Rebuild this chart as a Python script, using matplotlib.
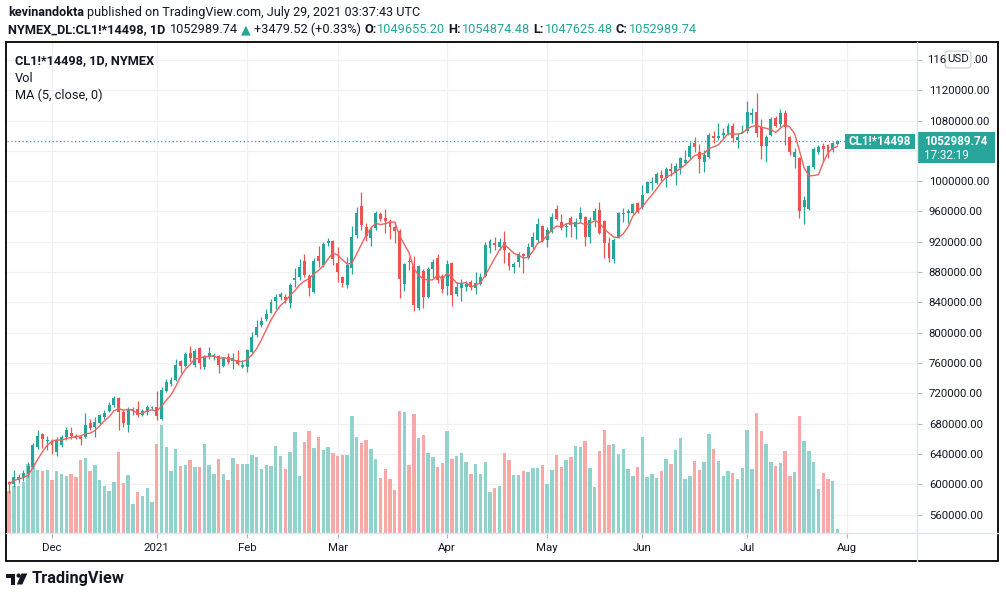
import matplotlib
matplotlib.use('Agg')
import matplotlib.pyplot as plt
import numpy as np
import pandas as pd
from matplotlib.patches import Rectangle, FancyBboxPatch, Polygon, Circle

# daily bars, CL1!*14498 (prices in thousands)
opens = [603.4, 600.3, 605.6, 607.8, 613.5, 623.2, 649.6, 665.9, 657.5, 656.2,
         643.0, 651.8, 661.9, 668.1, 663.7, 662.8, 661.9, 680.4, 676.0, 681.3,
         689.2, 697.1, 704.6, 713.4, 695.8, 678.2, 697.1, 698.9, 691.8, 695.8,
         701.1, 701.5, 685.7, 723.5, 732.3, 737.6, 762.7, 756.1, 772.8, 757.4,
         779.4, 754.3, 768.4, 767.5, 769.3, 756.1, 767.5, 763.1, 764.0, 755.2,
         754.3, 775.0, 797.0, 810.2, 817.7, 826.5, 842.3, 847.6, 847.6, 839.7,
         869.6, 873.1, 895.1, 874.9, 854.2, 901.3, 889.4, 918.9, 921.5, 891.6,
         873.1, 863.0, 885.0, 929.0, 967.3, 939.1, 924.6, 937.8, 956.7, 951.9,
         947.9, 940.0, 934.7, 864.3, 894.2, 888.1, 832.2, 881.9, 847.6, 883.7,
         898.2, 874.9, 861.7, 891.6, 851.1, 858.6, 860.8, 867.0, 858.6, 864.3,
         874.9, 911.4, 918.9, 912.7, 920.2, 905.7, 886.3, 893.8, 903.5, 898.2,
         913.6, 922.4, 940.9, 922.4, 933.4, 962.9, 946.2, 940.0, 951.0, 940.0,
         949.7, 953.2, 925.9, 948.8, 962.0, 947.9, 918.9, 896.9, 925.9, 956.7,
         957.6, 958.5, 970.8, 966.4, 984.9, 997.2, 998.1, 1008.2, 1003.8, 1015.7,
         1011.3, 1018.0, 1024.5, 1031.5, 1050.0, 1039.0, 1025.8, 1031.5, 1059.7, 1056.6,
         1061.0, 1063.2, 1072.9, 1054.4, 1064.1, 1066.7, 1087.4, 1091.8, 1071.1, 1046.5,
         1061.0, 1083.0, 1075.5, 1089.6, 1057.9, 1032.4, 1030.2, 965.5, 962.9, 1018.3,
         1039.0, 1046.5, 1047.8, 1041.2, 1049.655]
highs = [604.7, 618.8, 613.5, 618.8, 629.8, 654.0, 671.6, 668.1, 663.7, 659.2,
         662.8, 665.0, 676.0, 675.1, 666.3, 664.5, 693.6, 686.5, 688.3, 692.7,
         698.0, 709.0, 716.5, 715.6, 698.0, 701.5, 702.4, 710.3, 698.9, 704.2,
         703.3, 723.1, 728.8, 738.9, 742.0, 764.9, 764.0, 775.0, 782.5, 778.1,
         781.6, 770.6, 780.7, 773.7, 770.6, 768.4, 772.8, 773.7, 777.2, 764.0,
         778.1, 801.4, 816.8, 821.2, 830.9, 844.1, 851.1, 853.8, 851.1, 866.1,
         885.0, 896.9, 903.9, 877.5, 898.2, 914.5, 920.2, 924.6, 922.4, 912.7,
         874.9, 899.5, 940.9, 966.4, 985.8, 945.3, 940.9, 961.1, 959.8, 962.9,
         949.7, 946.6, 936.5, 892.5, 899.5, 901.3, 889.4, 883.7, 887.2, 896.9,
         903.9, 877.5, 896.0, 893.8, 867.4, 871.3, 868.7, 869.6, 880.6, 878.4,
         920.2, 923.3, 926.8, 924.6, 934.3, 907.0, 893.8, 907.0, 904.8, 918.9,
         933.4, 951.0, 942.2, 940.0, 957.6, 968.6, 956.7, 945.3, 954.1, 951.0,
         965.5, 954.1, 952.3, 964.2, 973.0, 948.8, 926.8, 924.6, 959.8, 964.2,
         962.9, 971.7, 973.0, 995.0, 1000.7, 1006.0, 1012.6, 1014.8, 1019.2, 1024.5,
         1024.5, 1032.0, 1041.2, 1052.2, 1057.9, 1049.1, 1041.2, 1063.2, 1066.7, 1077.3,
         1069.8, 1076.4, 1077.3, 1063.2, 1074.2, 1106.3, 1096.2, 1116.0, 1081.7, 1061.0,
         1085.2, 1086.1, 1094.9, 1094.0, 1059.7, 1043.4, 1031.5, 980.5, 1021.4, 1045.6,
         1047.8, 1050.9, 1049.1, 1052.2, 1054.874]
lows = [588.0, 596.8, 601.2, 604.7, 610.0, 621.0, 646.1, 647.4, 645.2, 639.9,
        637.3, 648.7, 658.4, 659.3, 659.3, 651.4, 660.6, 671.6, 662.8, 679.5,
        686.5, 695.4, 701.5, 671.6, 675.1, 669.4, 691.4, 688.3, 690.1, 691.0,
        699.8, 684.8, 684.8, 721.7, 729.6, 736.7, 746.4, 755.2, 761.8, 755.2,
        751.7, 751.7, 764.9, 764.0, 746.4, 754.3, 758.7, 751.7, 757.4, 753.0,
        748.6, 773.7, 794.8, 808.0, 815.9, 825.6, 830.9, 843.2, 838.8, 832.2,
        860.8, 869.6, 874.0, 848.5, 852.9, 887.2, 887.2, 914.5, 889.4, 867.4,
        859.9, 858.6, 877.5, 925.5, 935.6, 921.5, 914.5, 935.6, 947.9, 931.2,
        923.3, 918.9, 845.4, 855.5, 882.8, 829.1, 830.0, 832.2, 845.4, 871.8,
        866.1, 852.9, 849.8, 835.3, 848.5, 842.3, 855.5, 856.4, 851.1, 863.0,
        874.0, 904.8, 909.2, 909.2, 891.6, 882.8, 878.4, 887.2, 879.3, 896.9,
        910.1, 920.2, 920.2, 912.7, 931.2, 948.8, 935.6, 925.9, 926.8, 923.3,
        946.6, 914.5, 918.0, 940.0, 930.3, 898.2, 893.8, 892.5, 924.6, 946.6,
        945.3, 956.7, 957.6, 962.9, 984.0, 988.4, 996.3, 1000.7, 992.8, 1006.9,
        995.0, 1009.5, 1023.6, 1028.9, 1039.0, 1011.3, 1012.6, 1030.2, 1050.9, 1054.4,
        1055.3, 1061.0, 1052.2, 1043.4, 1063.2, 1064.1, 1077.3, 1057.9, 1028.9, 1025.8,
        1059.7, 1072.0, 1072.0, 1047.8, 1034.6, 1017.0, 951.0, 943.5, 962.0, 1015.7,
        1035.9, 1025.8, 1030.2, 1039.0, 1047.625]
closes = [599.9, 610.0, 610.0, 615.2, 624.1, 651.4, 663.7, 659.7, 658.4, 651.8,
          658.4, 661.9, 671.6, 663.7, 660.6, 660.2, 677.7, 673.8, 682.2, 691.0,
          693.6, 704.6, 713.4, 695.8, 681.3, 698.9, 698.9, 691.0, 696.7, 701.5,
          702.4, 690.1, 724.4, 735.4, 737.6, 757.4, 756.1, 771.9, 766.2, 776.3,
          759.6, 768.4, 772.8, 770.6, 757.4, 766.2, 761.8, 766.2, 758.3, 757.4,
          777.2, 794.8, 808.0, 815.5, 824.7, 841.0, 847.6, 851.1, 843.2, 863.0,
          871.8, 886.3, 876.2, 858.6, 895.1, 895.1, 917.1, 921.5, 896.9, 880.6,
          865.2, 889.4, 926.8, 958.5, 942.2, 927.7, 935.6, 958.5, 949.7, 947.9,
          939.1, 934.7, 870.5, 890.7, 892.9, 836.6, 888.1, 846.7, 883.7, 893.8,
          869.6, 857.3, 890.7, 849.8, 860.8, 866.1, 864.3, 859.9, 865.2, 873.1,
          915.8, 921.5, 915.8, 920.2, 909.2, 888.1, 890.7, 903.9, 901.3, 913.6,
          926.8, 943.5, 921.5, 935.6, 953.2, 950.6, 937.8, 940.9, 942.2, 946.6,
          957.6, 925.9, 948.8, 961.1, 931.2, 918.0, 898.2, 922.4, 957.6, 957.6,
          961.1, 969.9, 959.8, 981.8, 999.4, 998.1, 1009.5, 1003.8, 1015.7, 1013.9,
          1020.1, 1030.0, 1028.0, 1046.5, 1044.7, 1028.9, 1034.6, 1061.0, 1056.6, 1059.7,
          1064.1, 1072.9, 1056.6, 1057.9, 1065.4, 1090.9, 1090.5, 1063.2, 1046.5, 1057.9,
          1081.7, 1072.9, 1090.5, 1072.0, 1039.0, 1039.0, 961.1, 975.2, 1020.1, 1042.1,
          1044.7, 1042.1, 1039.0, 1050.0, 1052.990]
# volume (real scale is hidden on the chart, thousands of contracts)
volumes = [208, 234, 234, 255, 347, 350, 314, 310, 314, 264,
           310, 294, 284, 294, 280, 364, 375, 310, 339, 264,
           235, 210, 255, 404, 250, 289, 144, 204, 185, 225,
           155, 445, 539, 430, 310, 420, 335, 339, 364, 330,
           330, 447, 339, 297, 369, 294, 264, 374, 344, 344,
           347, 389, 379, 319, 339, 335, 434, 384, 319, 404,
           504, 284, 454, 509, 424, 479, 414, 429, 399, 384,
           389, 389, 584, 480, 450, 464, 419, 369, 274, 319,
           269, 214, 609, 604, 339, 594, 474, 489, 399, 379,
           329, 349, 509, 369, 384, 399, 354, 294, 344, 294,
           354, 204, 224, 234, 399, 364, 290, 290, 309, 304,
           324, 324, 339, 244, 314, 389, 329, 364, 379, 434,
           429, 459, 324, 229, 409, 514, 439, 444, 394, 419,
           319, 284, 329, 479, 279, 294, 274, 309, 369, 344,
           414, 474, 269, 284, 359, 314, 354, 494, 419, 359,
           284, 309, 299, 269, 324, 514, 319, 599, 509, 444,
           354, 334, 349, 409, 284, 304, 584, 459, 409, 354,
           219, 299, 269, 259, 20]

month_labels = ['Dec', '2021', 'Feb', 'Mar', 'Apr', 'May', 'Jun', 'Jul', 'Aug']
month_bars = [9, 31, 50, 69, 92, 113, 133, 155, 176]
price_ticks = np.arange(560000, 1160001, 40000)

UP, DOWN = '#26a69a', '#ef5350'
VOL_UP, VOL_DOWN = '#92d2cc', '#f7a9a7'
TXT = '#131722'
GRID = '#f0f0f2'
FAM = ['Roboto', 'DejaVu Sans']

o = np.array(opens) * 1000
h = np.array(highs) * 1000
l = np.array(lows) * 1000
c = np.array(closes) * 1000
v = np.array(volumes)
x = np.arange(len(c))
up = c >= o
ma = pd.Series(c).rolling(5, min_periods=1).mean()

W, H = 1006, 598
fig = plt.figure(figsize=(W / 100, H / 100), dpi=100)
fig.patch.set_facecolor('white')
plt.rcParams['font.family'] = FAM

YLO, YHI = 535600, 1183700
VTOP = 491 * 5

# plot area in pixels: x 6.5..917, y 42..533
ax = fig.add_axes([6.5 / W, 1 - 533 / H, (917 - 6.5) / W, (533 - 42) / H])
axv = ax.twinx()
ax.set_zorder(2)
axv.set_zorder(1)
ax.patch.set_visible(False)

# volume pane (drawn first, grid under it)
axv.bar(x, v, width=0.72, color=np.where(up, VOL_UP, VOL_DOWN), linewidth=0, zorder=2)
axv.set_ylim(0, VTOP)
axv.set_yticks([])
for s in axv.spines.values():
    s.set_visible(False)
for p in price_ticks:
    axv.axhline((p - YLO) / (YHI - YLO) * VTOP, color=GRID, lw=0.9, zorder=0)
for m in month_bars:
    axv.axvline(m, color=GRID, lw=0.9, zorder=0)

ax.set_xlim(-0.56, 190.7)
axv.set_xlim(ax.get_xlim())
ax.set_ylim(YLO, YHI)
ax.set_yticks(price_ticks)
# 1040000 sits under the last-price badge; 1160000 is split around the USD badge below
ax.set_yticklabels(['' if p in (1040000, 1160000) else '%.2f' % p for p in price_ticks])
ax.set_xticks(month_bars)
ax.set_xticklabels(month_labels)
for s in ax.spines.values():
    s.set_visible(False)
ax.yaxis.tick_right()
ax.tick_params(axis='y', length=3.5, color='#b2b5be', pad=5, labelsize=8.2, labelcolor=TXT)
ax.tick_params(axis='x', length=3.5, color='#b2b5be', pad=4, labelsize=8.2, labelcolor=TXT)

# candles
cols = np.where(up, UP, DOWN)
ax.vlines(x, l, h, colors=cols, linewidth=0.9, zorder=3)
body = np.maximum(np.abs(c - o), 1300)
ax.bar(x, body, bottom=np.minimum(o, c), width=0.62, color=cols, linewidth=0, zorder=4)

# moving average
ax.plot(x, ma, color='#f0625d', linewidth=1.0, zorder=5)

# last price line
ax.plot([ax.get_xlim()[0], 175.6], [c[-1], c[-1]], color=UP, linestyle=(0, (1, 2)), linewidth=0.9, zorder=2)

# overlay in pixel coordinates
ov = fig.add_axes([0, 0, 1, 1], zorder=10)
ov.set_xlim(0, W)
ov.set_ylim(H, 0)
ov.axis('off')
ov.patch.set_visible(False)

ov.add_patch(Rectangle((6.5, 42), 991.5, 519, fill=False, edgecolor='black', linewidth=1.3))
ov.plot([917, 917], [42, 561], color='#e0e3eb', lw=1)
ov.plot([6.5, 998], [533, 533], color='#e0e3eb', lw=1)

rend = fig.canvas.get_renderer()


def run(x0, y0, parts, size):
    xx = x0
    for s, wt, col, gap in parts:
        t = ov.text(xx, y0, s, fontsize=size, fontweight=wt, color=col, va='center', ha='left', family=FAM)
        bb = t.get_window_extent(renderer=rend)
        xx += bb.width + gap


run(8, 12.5, [('kevinandokta', 'bold', TXT, 3),
              ('published on TradingView.com, July 29, 2021 03:37:43 UTC', 'normal', TXT, 0)], 9.1)
run(8, 29.5, [('NYMEX_DL:CL1!*14498, 1D', 'bold', TXT, 5),
              ('1052989.74', 'normal', TXT, 3),
              ('▲', 'normal', UP, 3),
              ('+3479.52 (+0.33%)', 'normal', TXT, 3),
              ('O:', 'bold', TXT, 1), ('1049655.20', 'normal', UP, 3),
              ('H:', 'bold', TXT, 1), ('1054874.48', 'normal', UP, 3),
              ('L:', 'bold', TXT, 1), ('1047625.48', 'normal', UP, 3),
              ('C:', 'bold', TXT, 1), ('1052989.74', 'normal', UP, 0)], 9.2)

ov.text(15, 61, 'CL1!*14498, 1D, NYMEX', fontsize=9.2, fontweight='bold', color=TXT, va='center')
ov.text(15, 78, 'Vol', fontsize=9.2, color=TXT, va='center')
ov.text(15, 95, 'MA (5, close, 0)', fontsize=9.2, color=TXT, va='center')

# top price label, partly covered by the USD badge
ytop = H - ax.transData.transform((0, 1160000))[1]
ov.text(927.5, ytop, '116', fontsize=8.2, color=TXT, va='center', ha='left')
ov.text(988, ytop, '.00', fontsize=8.2, color=TXT, va='center', ha='right')
ov.add_patch(FancyBboxPatch((945, 51), 26, 17, boxstyle='round,pad=0,rounding_size=4',
                            facecolor='white', edgecolor='#c9cbd2', lw=0.8))
ov.text(958, 59.5, 'USD', fontsize=8.2, color=TXT, ha='center', va='center')

# last price labels
yl = H - ax.transData.transform((0, c[-1]))[1]
ov.add_patch(Rectangle((845.5, yl - 7.5), 69.5, 15, facecolor=UP, edgecolor='none'))
ov.text(880, yl, 'CL1!*14498', fontsize=8.4, fontweight='bold', color='white', ha='center', va='center')
ov.add_patch(Rectangle((917.5, yl - 9.5), 77.5, 31, facecolor=UP, edgecolor='none'))
ov.text(924, yl, '1052989.74', fontsize=8.4, fontweight='bold', color='white', va='center')
ov.text(924, yl + 14, '17:32:19', fontsize=8.4, color='white', va='center')

# TradingView logo
ov.add_patch(Polygon([(6, 573.5), (15.5, 573.5), (15.5, 584.5), (11, 584.5), (11, 577.5), (6, 577.5)],
                     closed=True, facecolor=TXT, edgecolor='none'))
ov.add_patch(Circle((18.6, 575.6), 2.1, facecolor=TXT, edgecolor='none'))
ov.add_patch(Polygon([(21.5, 573.5), (27.3, 573.5), (22.3, 584.5), (16.8, 584.5)],
                     closed=True, facecolor=TXT, edgecolor='none'))
ov.text(32, 579, 'TradingView', fontsize=11.8, fontweight='bold', color=TXT, va='center')

fig.savefig('out.png', dpi=100, facecolor='white')
